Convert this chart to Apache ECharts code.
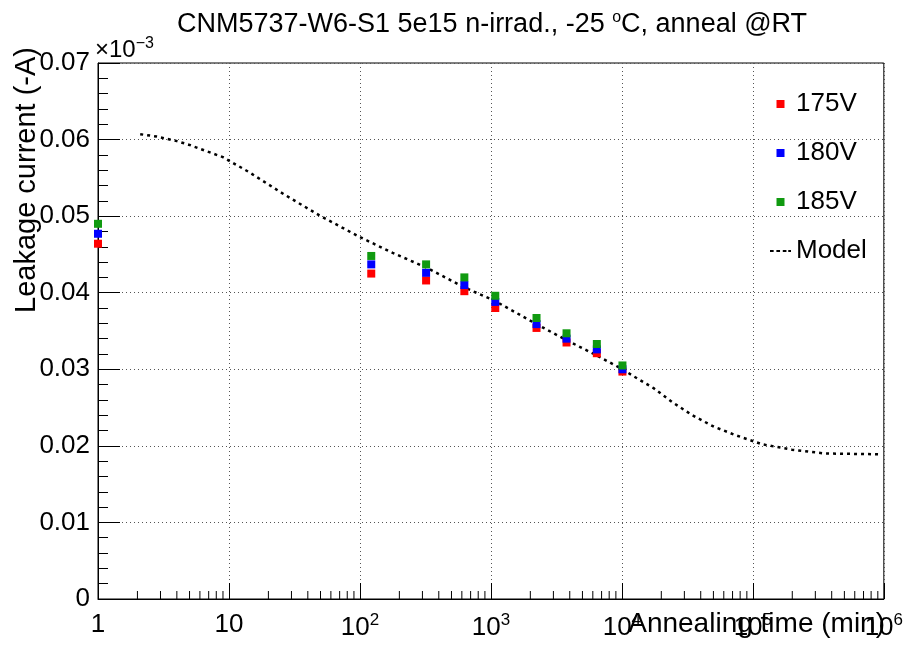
<!DOCTYPE html>
<html>
<head>
<meta charset="utf-8">
<script src="https://cdn.jsdelivr.net/npm/echarts@6/dist/echarts.min.js"></script>
<style>html,body{margin:0;padding:0;background:#fff;}#c{width:906px;height:663px;}</style>
</head>
<body>
<div id="c"></div>
<script>
// ---- data ----
var times = [1, 122, 320, 627, 1080, 2230, 3780, 6440, 10100];
var v175 = [0.0464, 0.0425, 0.0416, 0.0402, 0.0380, 0.0354, 0.0335, 0.0321, 0.0297];
var v180 = [0.0477, 0.0437, 0.0426, 0.0410, 0.0388, 0.0359, 0.0340, 0.0326, 0.0300];
var v185 = [0.0490, 0.0448, 0.0437, 0.0420, 0.0396, 0.0367, 0.0347, 0.0333, 0.0305];
var modelT = [2.1, 2.8, 4.0, 5.0, 6.7, 9.0, 14.4, 26.6, 49, 99, 178, 320, 627, 1080, 2230, 3780, 6440, 10100, 12000, 17600, 24300, 34500, 50400, 73800, 118000, 199000, 358000, 950000];
var modelV = [0.0607, 0.0604, 0.0598, 0.0593, 0.0585, 0.0577, 0.0557, 0.0528, 0.0501, 0.0473, 0.0452, 0.0433, 0.0407, 0.0389, 0.0359, 0.0338, 0.0318, 0.0300, 0.0292, 0.0275, 0.0257, 0.0240, 0.0225, 0.0214, 0.0202, 0.0195, 0.0190, 0.0189];
var xMinorTicks = [2,3,4,5,6,7,8,9,20,30,40,50,60,70,80,90,200,300,400,500,600,700,800,900,
  2000,3000,4000,5000,6000,7000,8000,9000,20000,30000,40000,50000,60000,70000,80000,90000,
  200000,300000,400000,500000,600000,700000,800000,900000];
var seriesNames = ['175V', '180V', '185V', 'Model'];
var titleText = 'CNM5737-W6-S1 5e15 n-irrad., -25 {s|o}C, anneal @RT';
var xTitle = 'Annealing time (min)';
var yTitle = 'Leakage current (-A)';
var yExp = '×10{s|−3}';

var FONT = '"Liberation Sans", Arial, Helvetica, sans-serif';
function zip(a, b) { return a.map(function (v, i) { return [v, b[i]]; }); }

var SQ = 'path://M0,0h8v8h-8z';
var chart = echarts.init(document.getElementById('c'), null, {renderer: 'canvas'});
var option = {
  backgroundColor: '#fff',
  animation: false,
  textStyle: {fontFamily: FONT},
  title: {
    text: titleText,
    left: 172, top: 5,
    textStyle: {fontFamily: FONT, fontSize: 27, fontWeight: 'normal', color: '#000',
      rich: {s: {fontSize: 16, padding: [0, 0, 14, 0], fontFamily: FONT, color: '#000'}}}
  },
  grid: {left: 98, right: 21, top: 63, bottom: 64, show: true, borderColor: '#000', borderWidth: 1, backgroundColor: 'transparent'},
  legend: {
    orient: 'vertical', left: 765, top: 86, itemWidth: 21, itemHeight: 8, itemGap: 23,
    symbolKeepAspect: true,
    textStyle: {fontFamily: FONT, fontSize: 26, color: '#000'},
    data: [
      {name: '175V', icon: SQ},
      {name: '180V', icon: SQ},
      {name: '185V', icon: SQ},
      {name: 'Model', icon: 'path://M0,0h4v2h-4z M7,0h4v2h-4z M14,0h4v2h-4z M20,0h3v2h-3z'}
    ]
  },
  xAxis: {
    type: 'log', logBase: 10, min: 1, max: 1000000, splitNumber: 6,
    axisLine: {show: true, lineStyle: {color: '#000', width: 1}},
    axisTick: {show: true, inside: true, length: 16, lineStyle: {color: '#000', width: 1}},
    minorTick: {show: false},
    splitLine: {show: true, lineStyle: {color: '#555', width: 1, type: [1, 3]}},
    axisLabel: {
      color: '#000', fontFamily: FONT, fontSize: 26, margin: 13, showMaxLabel: true, showMinLabel: true,
      formatter: function (v) {
        var e = Math.round(Math.log10(v));
        if (e === 0) return '1';
        if (e === 1) return '10';
        return '10{s|' + e + '}';
      },
      rich: {s: {fontSize: 17, padding: [0, 0, 14, 0], fontFamily: FONT, color: '#000'}}
    }
  },
  yAxis: {
    type: 'value', min: 0, max: 0.07, interval: 0.01,
    axisLine: {show: true, lineStyle: {color: '#000', width: 1}},
    axisTick: {show: true, inside: true, length: 22, lineStyle: {color: '#000', width: 1}},
    minorTick: {show: true, splitNumber: 5, length: 10, lineStyle: {color: '#000', width: 1}},
    splitLine: {show: true, lineStyle: {color: '#555', width: 1, type: [1, 3]}},
    axisLabel: {
      color: '#000', fontFamily: FONT, fontSize: 26, margin: 8,
      formatter: function (v) { return v === 0 ? '0' : v.toFixed(2); }
    }
  },
  graphic: [
    {type: 'text', left: 95, top: 36, style: {text: yExp, fontFamily: FONT, fontSize: 24, fill: '#000',
      rich: {s: {fontSize: 16, padding: [0, 0, 12, 0], fontFamily: FONT, fill: '#000'}}}},
    {type: 'text', x: 27, y: 180, rotation: Math.PI / 2,
      style: {text: yTitle, fontFamily: FONT, fontSize: 29, fill: '#000', align: 'center', verticalAlign: 'middle'}},
    {type: 'text', x: 885, y: 624,
      style: {text: xTitle, fontFamily: FONT, fontSize: 28, fill: '#000', align: 'right', verticalAlign: 'middle'}}
  ],
  series: [
    {name: 'Model', type: 'line', data: zip(modelT, modelV), showSymbol: false, symbol: 'none', smooth: false,
      lineStyle: {color: '#000', width: 2.5, type: [3, 4]}, itemStyle: {color: '#000'}, z: 3},
    {name: '175V', type: 'scatter', data: zip(times, v175), symbol: 'rect', symbolSize: 8, itemStyle: {color: '#ff0000', opacity: 1}, z: 4},
    {name: '180V', type: 'scatter', data: zip(times, v180), symbol: 'rect', symbolSize: 8, itemStyle: {color: '#0000ff', opacity: 1}, z: 4},
    {name: '185V', type: 'scatter', data: zip(times, v185), symbol: 'rect', symbolSize: 8, itemStyle: {color: '#109a10', opacity: 1}, z: 4},
    {name: 'xminor', type: 'custom', silent: true, z: 5,
      data: xMinorTicks.map(function (v) { return [v, 0]; }),
      encode: {x: 0, y: 1},
      renderItem: function (params, api) {
        var p = api.coord([api.value(0), 0]);
        return {type: 'line', shape: {x1: p[0], y1: p[1], x2: p[0], y2: p[1] - 8},
          style: {stroke: '#000', lineWidth: 1}};
      }
    }
  ]
};
chart.setOption(option);
</script>
</body>
</html>
